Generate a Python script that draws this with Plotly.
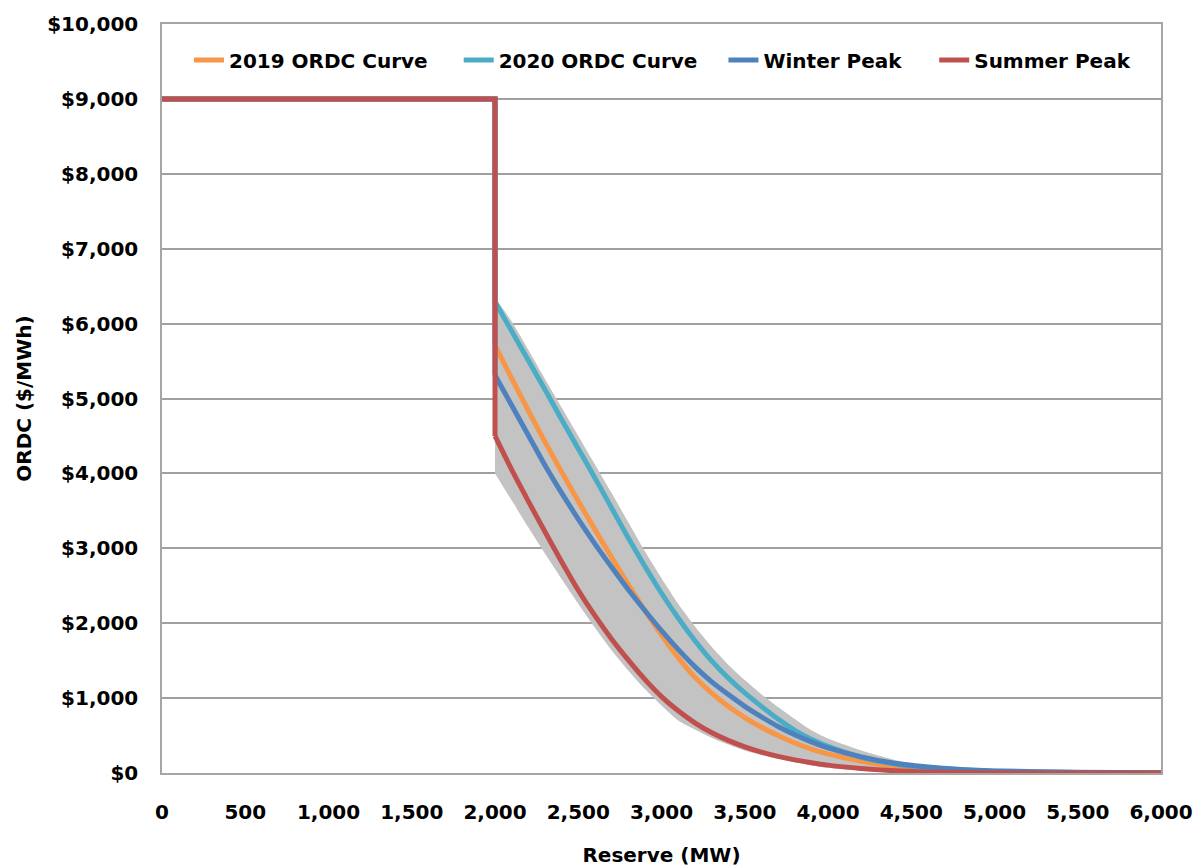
import plotly.graph_objects as go

# Reserve (MW) grid for the sloped part of the curves
reserve = [2000, 2100, 2200, 2300, 2400, 2500, 2600, 2700, 2800, 2900, 3000,
           3100, 3200, 3300, 3400, 3500, 3600, 3700, 3800, 3900, 4000,
           4200, 4400, 4600, 4800, 5000, 5500, 6000]

cap_price = 9000
cap_reserve = [0, 2000]

ordc_2019 = [5710, 5270, 4840, 4420, 4020, 3630, 3250, 2880, 2520, 2170, 1840,
             1540, 1280, 1070, 890, 740, 610, 500, 400, 320, 255,
             155, 85, 45, 25, 12, 4, 1]
ordc_2020 = [6290, 5900, 5510, 5120, 4720, 4330, 3940, 3540, 3140, 2760, 2400,
             2070, 1770, 1500, 1270, 1070, 890, 720, 570, 450, 355,
             210, 120, 70, 40, 25, 8, 2]
winter_peak = [5310, 4910, 4510, 4110, 3740, 3390, 3060, 2750, 2450, 2170, 1900,
               1650, 1420, 1220, 1050, 890, 750, 620, 510, 415, 335,
               215, 130, 80, 48, 28, 9, 3]
summer_peak = [4500, 4050, 3630, 3220, 2820, 2440, 2100, 1790, 1510, 1250, 1020,
               830, 670, 540, 435, 350, 280, 222, 175, 137, 105,
               60, 30, 14, 6, 2, 0, 0]

band_upper = [6350, 6030, 5650, 5260, 4880, 4500, 4120, 3740, 3350, 2960, 2600,
              2260, 1960, 1690, 1450, 1240, 1050, 880, 720, 570, 460,
              300, 175, 100, 60, 30, 10, 3]
band_lower = [4000, 3640, 3280, 2930, 2590, 2260, 1940, 1640, 1370, 1120, 900,
              700, 580, 470, 380, 300, 240, 190, 145, 105, 70,
              30, 8, 0, 0, 0, 0, 0]

series_names = ["2019 ORDC Curve", "2020 ORDC Curve", "Winter Peak", "Summer Peak"]
series_values = [ordc_2019, ordc_2020, winter_peak, summer_peak]
series_colors = ["#F79646", "#4BACC6", "#4F81BD", "#C0504D"]
legend_ids = ["legend", "legend2", "legend3", "legend4"]
legend_x = [0.027, 0.297, 0.562, 0.773]

FONT = "DejaVu Sans"
TXT = dict(family=FONT, size=20, color="black", weight="bold")

fig = go.Figure()

# shaded envelope
fig.add_trace(go.Scatter(
    x=reserve + reserve[::-1],
    y=band_upper + band_lower[::-1],
    fill="toself", fillcolor="#C3C3C3",
    line=dict(width=0, shape="spline", smoothing=0.6), mode="lines",
    showlegend=False, hoverinfo="skip"))

for name, vals, col, lg in zip(series_names, series_values, series_colors, legend_ids):
    # cap segment and vertical drop (straight)
    fig.add_trace(go.Scatter(
        x=cap_reserve + [reserve[0]], y=[cap_price, cap_price, vals[0]],
        mode="lines", line=dict(color=col, width=5),
        showlegend=False, legendgroup=name, hoverinfo="skip"))
    # sloped, smooth part
    fig.add_trace(go.Scatter(
        x=reserve, y=vals, mode="lines", name=name, legend=lg,
        legendgroup=name,
        line=dict(color=col, width=5, shape="spline", smoothing=0.8)))

layout_legends = {}
for lg, lx in zip(legend_ids, legend_x):
    layout_legends[lg] = dict(orientation="h", x=lx, y=0.978,
                              xanchor="left", yanchor="top",
                              font=TXT, bgcolor="rgba(0,0,0,0)")

fig.update_layout(
    width=1194, height=867,
    margin=dict(l=162, r=33, t=24, b=94),
    paper_bgcolor="white", plot_bgcolor="white",
    font=TXT,
    showlegend=True,
    **layout_legends,
)

fig.update_xaxes(
    range=[0, 6000], dtick=500, tickformat=",", showgrid=False,
    showline=True, linecolor="#A6A6A6", linewidth=1.5, mirror=True,
    ticks="", ticklabelstandoff=20, automargin=False,
    tickfont=TXT,
    title=dict(text="Reserve (MW)", standoff=25, font=TXT),
    zeroline=False)

fig.update_yaxes(
    range=[0, 10000], dtick=1000, tickprefix="$", tickformat=",",
    showgrid=True, gridcolor="#A0A0A0", gridwidth=1.5,
    showline=True, linecolor="#A6A6A6", linewidth=1.5, mirror=True,
    ticks="", ticklabelstandoff=18, automargin=False,
    tickfont=TXT,
    title=dict(text="ORDC ($/MWh)", standoff=10, font=TXT),
    zeroline=False)

fig.write_html("out.html")
